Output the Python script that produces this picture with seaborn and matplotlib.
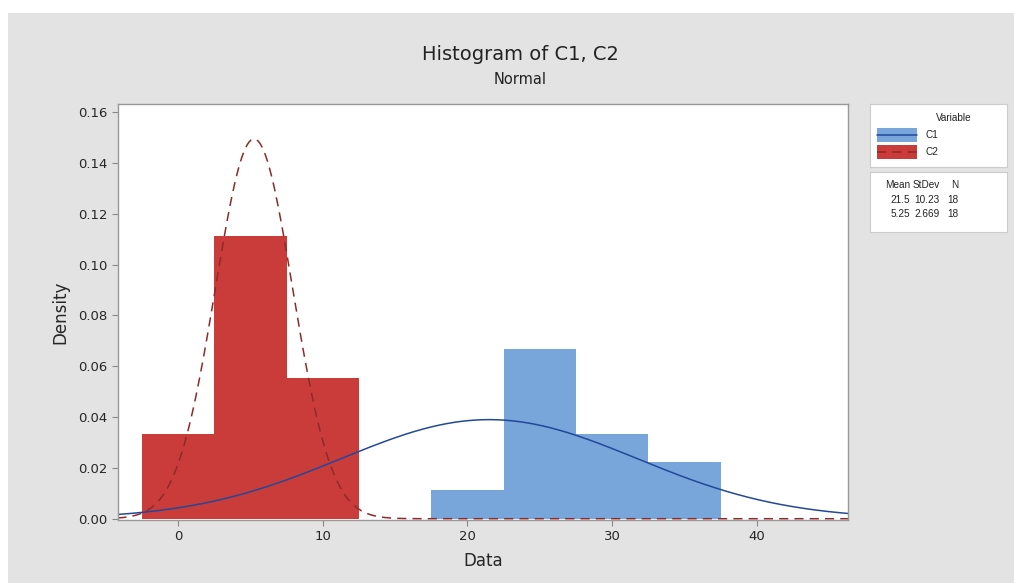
import numpy as np
import pandas as pd
import matplotlib
matplotlib.use('Agg')
import matplotlib.pyplot as plt
from matplotlib.patches import Rectangle
import seaborn as sns

# bin edges (width 5) and counts
bin_edges = [-2.5, 2.5, 7.5, 12.5, 17.5, 22.5, 27.5, 32.5, 37.5]
bin_mids = [0, 5, 10, 15, 20, 25, 30, 35]
c1_counts = [0, 2, 4, 0, 1, 6, 3, 2]   # first ones sit behind the red bars
c2_counts = [3, 10, 5, 0, 0, 0, 0, 0]

variables = ['C1', 'C2']
means = [21.5, 5.25]
stdevs = [10.23, 2.669]
n_obs = [18, 18]

bar_colors = ['#78A5DA', '#C93C3A']
line_colors = ['#23489A', '#8E2A2A']

sns.set_style('white')
plt.rcParams['font.family'] = ['DejaVu Sans']

fig = plt.figure(figsize=(10.14, 5.83), dpi=100, facecolor='white')
fig.patches.append(Rectangle((8 / 1014, 0), 1, (583 - 13) / 583, transform=fig.transFigure,
                             facecolor='#e3e3e3', edgecolor='none', zorder=-10))
ax = fig.add_axes([118 / 1014, 1 - 520 / 583, 730 / 1014, 416 / 583])
ax.set_facecolor('white')

df = pd.DataFrame({'x': bin_mids * 2,
                   'w': c1_counts + c2_counts,
                   'var': ['C1'] * len(bin_mids) + ['C2'] * len(bin_mids)})

for i, v in enumerate(variables):
    sub = df[df['var'] == v]
    sns.histplot(data=sub, x='x', weights='w', bins=bin_edges, stat='density',
                 color=bar_colors[i], alpha=1, edgecolor='none', linewidth=0, ax=ax)

xs = np.linspace(-4.2, 46.3, 400)
for i, v in enumerate(variables):
    pdf = np.exp(-0.5 * ((xs - means[i]) / stdevs[i]) ** 2) / (stdevs[i] * np.sqrt(2 * np.pi))
    sns.lineplot(x=xs, y=pdf, color=line_colors[i], lw=1.1,
                 linestyle='-' if i == 0 else (0, (6, 4)), ax=ax)

ax.set_xlim(-4.15, 46.3)
ax.set_ylim(-0.0005, 0.1632)
ax.set_xticks([0, 10, 20, 30, 40])
ax.set_yticks(np.arange(0, 0.161, 0.02))
ax.set_yticklabels([f'{t:.2f}' for t in np.arange(0, 0.161, 0.02)])
ax.tick_params(axis='both', length=4, color='#888888', labelsize=9.5, direction='out',
               bottom=True, left=True)
for s in ax.spines.values():
    s.set_color('#999999')
    s.set_linewidth(1)
ax.set_xlabel('Data', fontsize=12, labelpad=6)
ax.set_ylabel('Density', fontsize=12, labelpad=6)

fig.text(520 / 1014, 1 - 55 / 583, 'Histogram of C1, C2', ha='center', va='center',
         fontsize=14, color='#222222')
fig.text(520 / 1014, 1 - 80 / 583, 'Normal', ha='center', va='center',
         fontsize=10.5, color='#222222')

# legend boxes
lf = dict(fontsize=7.2, family=['Liberation Sans', 'DejaVu Sans'], color='#222222')
top = fig.add_axes([870 / 1014, 1 - 167 / 583, 137 / 1014, 63 / 583])
bot = fig.add_axes([870 / 1014, 1 - 232 / 583, 137 / 1014, 60 / 583])
for a in (top, bot):
    a.set_xlim(0, 137)
    a.set_xticks([])
    a.set_yticks([])
    for s in a.spines.values():
        s.set_color('#cccccc')
top.set_ylim(63, 0)
bot.set_ylim(60, 0)
top.text(84, 14, 'Variable', ha='center', va='center', **lf)
for i, v in enumerate(variables):
    yc = 31 + i * 17
    top.add_patch(Rectangle((7, yc - 7), 40, 14, facecolor=bar_colors[i], edgecolor='none'))
    top.plot([7, 47], [yc, yc], color=line_colors[i], lw=1.1,
             linestyle='-' if i == 0 else (0, (6, 4)))
    top.text(55, yc, v, ha='left', va='center', **lf)

bot.text(40, 13, 'Mean', ha='right', va='center', **lf)
bot.text(70, 13, 'StDev', ha='right', va='center', **lf)
bot.text(88, 13, 'N', ha='right', va='center', **lf)
for i in range(len(variables)):
    yc = 28 + i * 14
    bot.text(40, yc, f'{means[i]:g}', ha='right', va='center', **lf)
    bot.text(70, yc, f'{stdevs[i]:g}', ha='right', va='center', **lf)
    bot.text(88, yc, f'{n_obs[i]}', ha='right', va='center', **lf)

fig.savefig('out.png', dpi=100, facecolor=fig.get_facecolor())
